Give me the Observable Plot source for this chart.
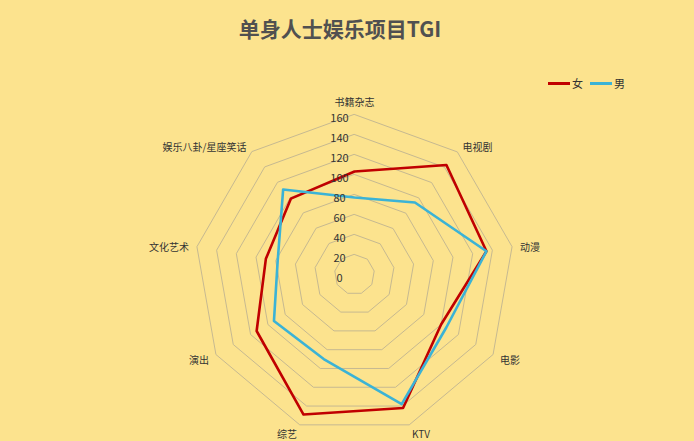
<!DOCTYPE html>
<html><head><meta charset="utf-8">
<script src="https://cdn.jsdelivr.net/npm/d3@7"></script>
<script src="https://cdn.jsdelivr.net/npm/@observablehq/plot@0.6"></script>
<style>
body{margin:0;background:#FCE38E;font-family:"Noto Sans CJK SC","Noto Sans",sans-serif;}
#wrap{position:relative;width:694px;height:441px;overflow:hidden;}
#title{height:50px;line-height:56px;text-align:center;font-size:21px;font-weight:bold;color:#505050;padding-right:14px;}
#legend{position:absolute;top:75px;left:548px;font-size:11px;color:#333;display:flex;align-items:center;}
#legend .item{display:flex;align-items:center;margin-right:7px;}
#legend .sw{display:inline-block;width:22px;height:3px;margin-right:2px;}
#chart svg{display:block;background:transparent;}
</style></head>
<body>
<div id="wrap">
  <div id="title">单身人士娱乐项目TGI</div>
  <div id="chart"></div>
  <div id="legend"></div>
</div>
<script>
const categories = ["书籍杂志","电视剧","动漫","电影","KTV","综艺","演出","文化艺术","娱乐八卦/星座笑话"];
const female = [103, 143, 134, 100, 142, 149, 113, 90, 99];
const male = [77, 94, 134, 106, 138, 90, 93, 78, 111];
const seriesNames = ["女","男"];
const seriesColors = ["#C00000","#3BB3D6"];
const ringTicks = [0,20,40,60,80,100,120,140,160];

const n = categories.length;
const ang = i => (i * 2 * Math.PI) / n;
const maxV = ringTicks[ringTicks.length - 1];

const ringData = [];
ringTicks.filter(t => t > 0).forEach(t => {
  categories.forEach((c, i) => ringData.push({ring: t, x: t * Math.sin(ang(i)), y: t * Math.cos(ang(i))}));
});

const seriesData = [];
[female, male].forEach((vals, s) => {
  vals.forEach((v, i) => seriesData.push({series: seriesNames[s], x: v * Math.sin(ang(i)), y: v * Math.cos(ang(i))}));
});

const labelR = maxV + 8;
const labelData = categories.map((c, i) => {
  const s = Math.sin(ang(i));
  return {text: c, x: labelR * s, y: labelR * Math.cos(ang(i)),
    side: Math.abs(s) < 1e-6 ? "top" : (s > 0 ? "right" : "left")};
});

const W = 694, H = 391, cx = 354, cy = 224;

const chart = Plot.plot({
  width: W, height: H,
  margin: 0,
  x: {domain: [-cx, W - cx], axis: null},
  y: {domain: [cy - H, cy], axis: null},
  color: {domain: seriesNames, range: seriesColors},
  style: {background: "transparent", fontFamily: '"Noto Sans CJK SC","Noto Sans",sans-serif'},
  marks: [
    Plot.line(ringData, {x: "x", y: "y", z: "ring", curve: "linear-closed", stroke: "#c6b991", strokeWidth: 1}),
    Plot.line(seriesData, {x: "x", y: "y", z: "series", stroke: "series", curve: "linear-closed", strokeWidth: 2.6}),
    Plot.text(ringTicks, {x: 0, y: d => d, text: d => String(d), dx: -15, dy: 4, fontSize: 11, fill: "#333"}),
    Plot.text(labelData.filter(d => d.side === "top"), {x: "x", y: "y", text: "text", textAnchor: "middle", dy: -4, fontSize: 10, fill: "#333"}),
    Plot.text(labelData.filter(d => d.side === "right"), {x: "x", y: "y", text: "text", textAnchor: "start", dy: 2, fontSize: 10, fill: "#333"}),
    Plot.text(labelData.filter(d => d.side === "left"), {x: "x", y: "y", text: "text", textAnchor: "end", dy: 2, fontSize: 10, fill: "#333"})
  ]
});
document.getElementById("chart").appendChild(chart);

const legend = document.getElementById("legend");
seriesNames.forEach((name, i) => {
  const item = document.createElement("span");
  item.className = "item";
  item.innerHTML = `<span class="sw" style="background:${seriesColors[i]}"></span><span>${name}</span>`;
  legend.appendChild(item);
});
</script>
</body></html>
